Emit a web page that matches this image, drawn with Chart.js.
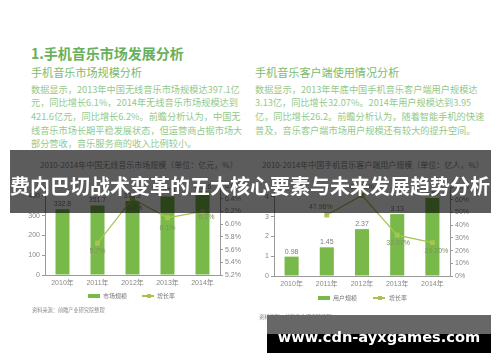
<!DOCTYPE html>
<html>
<head>
<meta charset="utf-8">
<script src="https://cdn.jsdelivr.net/npm/chart.js@4.4.1/dist/chart.umd.min.js"></script>
<style>
  body { margin: 0; width: 500px; height: 362px; background: #fff; overflow: hidden; position: relative;
         font-family: "Noto Sans CJK SC", sans-serif; }
  .t { position: absolute; white-space: nowrap; line-height: 1; }
  .h1 { font-size: 14px; font-weight: bold; color: #68b05c; }
  .h2 { font-size: 11.1px; color: #7bbb6c; }
  .p { font-size: 9.2px; color: #93c98b; }
  .ct { font-size: 8px; color: #8a8a8a; }
  .lg { font-size: 6px; color: #777; }
  .src { font-size: 5.2px; color: #888; }
  canvas { position: absolute; }
  #banner { position: absolute; left: 10px; top: 150px; width: 481px; height: 63px; background: rgba(0,0,0,0.64); }
  #bannerTitle { position: absolute; left: 0; width: 500px; top: 176px; text-align: center; font-size: 20px;
                 font-weight: bold; color: #fff; line-height: 1; white-space: nowrap; }
  #wm { position: absolute; left: 267px; top: 315px; width: 224px; height: 38px;
        background: linear-gradient(#676767 0, #676767 50%, #000 50%, #000 100%); }
  #wmText { position: absolute; left: 267px; width: 224px; top: 329.5px; text-align: center; color: #fff;
            font: bold 14.6px "DejaVu Sans", sans-serif; line-height: 1; }
</style>
</head>
<body>

<div class="t h1" style="left:31px;top:46px">1.手机音乐市场发展分析</div>
<div class="t h2" style="left:31px;top:67.3px">手机音乐市场规模分析</div>
<div class="t p" style="left:31px;top:84.7px">数据显示，2013年中国无线音乐市场规模达397.1亿</div>
<div class="t p" style="left:31px;top:98.3px">元，同比增长6.1%，2014年无线音乐市场规模达到</div>
<div class="t p" style="left:31px;top:111.9px">421.6亿元，同比增长6.2%。前瞻分析认为，中国无</div>
<div class="t p" style="left:31px;top:125.5px">线音乐市场长期平稳发展状态，但运营商占据市场大</div>
<div class="t p" style="left:31px;top:139.1px">部分营收，音乐服务商的收入比例较小。</div>

<div class="t h2" style="left:255px;top:67.3px">手机音乐客户端使用情况分析</div>
<div class="t p" style="left:255px;top:84.7px">数据显示，2013年年底中国手机音乐客户端用户规模达</div>
<div class="t p" style="left:255px;top:98.3px">3.13亿，同比增长32.07%。2014年用户规模达到3.95</div>
<div class="t p" style="left:255px;top:111.9px">亿，同比增长26.2。前瞻分析认为，随着智能手机的快速</div>
<div class="t p" style="left:255px;top:125.5px">普及，音乐客户端市场用户规模还有较大的提升空间。</div>

<div class="t ct" style="left:40px;top:161px">2010-2014年中国无线音乐市场规模（单位：亿元，%）</div>
<div class="t ct" style="left:262px;top:161px">2010-2014年中国手机音乐客户端用户规模（单位：亿人，%）</div>

<canvas id="c1" width="240" height="116" style="left:10px;top:176px"></canvas>
<canvas id="c2" width="245" height="116" style="left:240px;top:177px"></canvas>

<div style="position:absolute;left:88px;top:294px;width:12px;height:3.5px;background:#78b94a"></div>
<div class="t lg" style="left:103px;top:292.7px">市场规模</div>
<div style="position:absolute;left:142px;top:295.3px;width:12px;height:1.4px;background:#a9c350"></div>
<div style="position:absolute;left:146.5px;top:294px;width:4px;height:4px;background:#a9c350"></div>
<div class="t lg" style="left:157px;top:292.7px">增长率</div>

<div style="position:absolute;left:318px;top:296px;width:12px;height:3.5px;background:#78b94a"></div>
<div class="t lg" style="left:333px;top:294.7px">用户规模</div>
<div style="position:absolute;left:373px;top:297.3px;width:12px;height:1.4px;background:#a9c350"></div>
<div style="position:absolute;left:377.5px;top:296px;width:4px;height:4px;background:#a9c350"></div>
<div class="t lg" style="left:389px;top:294.7px">增长率</div>

<div class="t src" style="left:32px;top:306.5px">资料来源：前瞻产业研究院整理</div>
<div class="t src" style="left:259px;top:313.5px">资料来源：前瞻产业研究院整理</div>

<div id="banner"></div>
<div id="bannerTitle">费内巴切战术变革的五大核心要素与未来发展趋势分析</div>

<div id="wm"></div>
<div id="wmText">www.cdn-ayxgames.com</div>

<script>
const years = ["2010年", "2011年", "2012年", "2013年", "2014年"];
// 无线音乐市场规模（亿元）と増長率（%）
const marketSize = [332.8, 351.7, 374.2, 397.1, 421.6];
const marketGrowth = [null, 5.7, 6.4, 6.1, 6.2];
// 手机音乐客户端用户规模（亿人）と増長率（%）
const userSize = [0.98, 1.45, 2.37, 3.13, 3.95];
const userGrowth = [null, 47.96, 63.45, 32.07, 26.2];

const FONT = "'Liberation Sans', 'Noto Sans CJK SC', sans-serif";
const BAR = "#78b94a";
const LINE = "#a9c350";

/**
 * 柱と折れ線の上に数値を描きます。
 */
const valueLabels = {
  id: "valueLabels",
  afterDatasetsDraw(chart, args, opts) {
    const ctx = chart.ctx;
    ctx.save();
    ctx.font = "7px " + FONT;
    ctx.textAlign = "center";
    ctx.textBaseline = "middle";
    chart.data.datasets.forEach((ds, i) => {
      const meta = chart.getDatasetMeta(i);
      meta.data.forEach((el, j) => {
        const v = ds.data[j];
        if (v == null) return;
        if (ds.type === "bar") {
          ctx.fillStyle = "#7a7a7a";
          ctx.fillText(v.toFixed(opts.barDigits), el.x, el.y - 5);
        } else {
          const o = opts.lineOffsets[j];
          ctx.fillStyle = "#7f9160";
          ctx.fillText(v.toFixed(opts.lineDigits) + "%", el.x + o[0], el.y + o[1]);
        }
      });
    });
    ctx.restore();
  },
};

const yAxis = (pos, min, max, step, digits, pct, width) => ({
  position: pos,
  min: min,
  max: max,
  grid: { drawOnChartArea: false, tickLength: 3, color: "#9a9a9a" },
  border: { color: "#9a9a9a" },
  ticks: {
    stepSize: step,
    color: "#888",
    padding: 2,
    font: { size: 7, family: FONT },
    callback: (v) => (pct ? v.toFixed(digits) + "%" : +v.toFixed(digits)),
  },
  afterFit: (s) => {
    s.width = width;
  },
});

const makeChart = (id, bars, growth, o) =>
  new Chart(document.getElementById(id).getContext("2d"), {
    data: {
      labels: years,
      datasets: [
        {
          type: "line",
          data: growth,
          yAxisID: "y1",
          borderColor: LINE,
          backgroundColor: LINE,
          borderWidth: 1.3,
          pointStyle: "rect",
          pointRadius: 2.5,
          order: 0,
        },
        {
          type: "bar",
          data: bars,
          yAxisID: "y",
          backgroundColor: BAR,
          categoryPercentage: 1,
          barPercentage: 0.4,
          order: 1,
        },
      ],
    },
    options: {
      responsive: false,
      animation: false,
      events: [],
      layout: { padding: { top: 10, left: 0, right: 0, bottom: 0 } },
      plugins: {
        legend: { display: false },
        tooltip: { enabled: false },
        valueLabels: o.labels,
      },
      scales: {
        x: {
          grid: { drawOnChartArea: false, drawTicks: false },
          border: { color: "#9a9a9a" },
          ticks: { color: "#888", padding: 4, font: { size: 7, family: FONT } },
          afterFit: (s) => {
            s.height = 17;
          },
        },
        y: o.y,
        y1: o.y1,
      },
    },
    plugins: [valueLabels],
  });

makeChart("c1", marketSize, marketGrowth, {
  y: yAxis("left", 0, 450, 50, 0, false, 35),
  y1: yAxis("right", 5.2, 6.6, 0.2, 1, true, 30),
  labels: { barDigits: 1, lineDigits: 1, lineOffsets: [[0, 0], [0, 8], [2, 9], [0, 10], [4, 6]] },
});

makeChart("c2", userSize, userGrowth, {
  y: yAxis("left", 0, 4.5, 0.5, 1, false, 34),
  y1: yAxis("right", 0, 70, 10, 0, true, 35),
  labels: { barDigits: 2, lineDigits: 2, lineOffsets: [[0, 0], [-6, -8], [0, -8], [1, 8], [4, 8]] },
});
</script>
</body>
</html>
